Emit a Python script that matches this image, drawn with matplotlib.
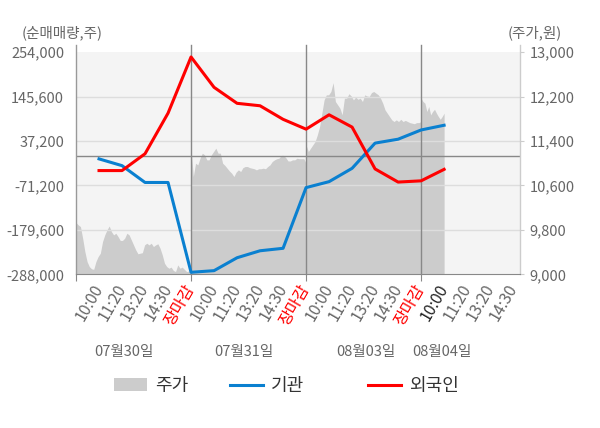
import numpy as np
import matplotlib.pyplot as plt
import matplotlib.transforms as transforms
from matplotlib.patches import Patch
from matplotlib.lines import Line2D

plt.rcParams['font.family'] = ['Noto Sans CJK KR', 'DejaVu Sans']

# x tick labels (one per slot) and the trading days
tick_labels = ["10:00", "11:20", "13:20", "14:30", "장마감"] * 3 + ["10:00", "11:20", "13:20", "14:30"]
day_names = ["07월30일", "07월31일", "08월03일", "08월04일"]

# net buying (shares), one point per slot 1..16
institution = [-6500, -23000, -64000, -64000, -283000, -279000, -247500, -230500,
               -224500, -76500, -62000, -29500, 32000, 41500, 64000, 75500]
foreign = [-35000, -35000, 6000, 105000, 242000, 168000, 129000, 123000,
           90000, 66000, 101000, 71000, -31000, -63000, -60000, -32000]

# intraday price (won), per day
price_d1 = [9930, 9890, 9860, 9650, 9410, 9230, 9140, 9100, 9090, 9230, 9320, 9380, 9590,
            9710, 9800, 9870, 9770, 9710, 9740, 9680, 9610, 9610, 9650, 9740, 9710, 9620,
            9530, 9440, 9370, 9380, 9390, 9530, 9560, 9530, 9560, 9500, 9530, 9550, 9470,
            9350, 9200, 9140, 9110, 9130, 9070, 9050, 9170, 9110, 9130, 9090, 9050, 9060, 9050]
price_d2 = [11270, 10760, 11000, 10970, 11090, 11180, 11150, 11060, 11060, 11150, 11210,
            11270, 11180, 11180, 11000, 10960, 10910, 10860, 10820, 10760, 10840, 10880,
            10850, 10920, 10940, 10940, 10920, 10910, 10900, 10880, 10900, 10900, 10910,
            10900, 10940, 10970, 11030, 11060, 11080, 11090, 11140, 11140, 11100, 11040,
            11040, 11060, 11060, 11090, 11080, 11080, 11080, 11000]
price_d3 = [11330, 11210, 11270, 11330, 11390, 11510, 11660, 11900, 12140, 12230, 12230,
            12290, 12450, 12110, 12050, 11990, 11870, 12170, 12170, 12250, 12210, 12140,
            12190, 12150, 12170, 12110, 12230, 12210, 12200, 12270, 12290, 12260, 12230,
            12170, 12080, 11960, 11900, 11840, 11780, 11750, 11780, 11750, 11790, 11750,
            11770, 11750, 11730, 11720, 11710, 11730, 11730, 11750]
price_d4 = [12170, 12110, 12080, 11930, 12020, 11870, 11930, 11970, 11900, 11840, 11790,
            11840, 11900]

left_ticks = [-288000, -179600, -71200, 37200, 145600, 254000]
right_ticks = [9000, 9800, 10600, 11400, 12200, 13000]

BLUE = "#0a80d0"
RED = "#ff0000"
AREA = "#cccccc"
TXT = "#666666"

# slot coordinates: each day covers 5 slots, last day ends at the 10:00 slot
slots = np.arange(1, len(institution) + 1)
price_x = np.concatenate([
    np.linspace(0, 5, len(price_d1)),
    np.linspace(5, 10, len(price_d2)),
    np.linspace(10, 15, len(price_d3)),
    np.linspace(15, 16, len(price_d4)),
])
price = np.array(price_d1 + price_d2 + price_d3 + price_d4)

fig = plt.figure(figsize=(6, 4.28), dpi=100)
ax = fig.add_axes([0.1267, 0.359, 0.74, 0.5194])
ax2 = ax.twinx()
ax.set_zorder(ax2.get_zorder() + 1)
ax.patch.set_visible(False)
ax2.patch.set_visible(True)
ax2.set_facecolor("#f4f4f4")

xmax = 19.3
ax.set_xlim(0, xmax)
ax.set_ylim(left_ticks[0], left_ticks[-1])
ax2.set_ylim(right_ticks[0], right_ticks[-1])

# price area on the right axis
ax2.fill_between(price_x, right_ticks[0], price, color=AREA, lw=0)

# grid
for v in left_ticks[1:-1]:
    ax.axhline(v, color="#dddddd", lw=1, zorder=1)
ax.axhline(0, color="#888888", lw=1, zorder=1)
for xv in [5, 10, 15]:
    ax.axvline(xv, ymax=1.032, color="#888888", lw=1, clip_on=False, zorder=1)
ax.axvline(0, ymax=1.032, color="#999999", lw=1, clip_on=False, zorder=1)
ax.axvline(xmax, ymax=1.032, color="#cccccc", lw=1, clip_on=False, zorder=1)

# net buying lines
ax.plot(slots, institution, color=BLUE, lw=2.2, solid_joinstyle="round", zorder=3)
ax.plot(slots, foreign, color=RED, lw=2.2, solid_joinstyle="round", zorder=3)

for a in (ax, ax2):
    for s in a.spines.values():
        s.set_visible(False)
ax.spines["bottom"].set_visible(True)
ax.spines["bottom"].set_color("#888888")

# x ticks: marks at day boundaries, labels on every slot
ax.xaxis.remove_overlapping_locs = False
ax.set_xticks([0, 5, 10, 15], labels=[""] * 4)
ax.tick_params(axis="x", which="major", length=5, color="#888888")
ax.set_xticks(np.arange(1, len(tick_labels) + 1), labels=tick_labels, minor=True)
ax.tick_params(axis="x", which="minor", length=0, pad=8, labelsize=11.5)
for i, lab in enumerate(ax.get_xticklabels(minor=True)):
    lab.set_rotation(60)
    lab.set_rotation_mode("anchor")
    lab.set_ha("right")
    lab.set_va("center")
    if tick_labels[i] == "장마감":
        lab.set_color(RED)
    elif i == len(institution) - 1:
        lab.set_color("#222222")
    else:
        lab.set_color(TXT)

ax.set_yticks(left_ticks, labels=[f"{v:,}" for v in left_ticks])
ax.tick_params(axis="y", length=0, pad=8.5, labelsize=10.5, labelcolor=TXT)
ax2.set_yticks(right_ticks, labels=[f"{v:,}" for v in right_ticks])
ax2.tick_params(axis="y", length=3, color="#cccccc", pad=4, labelsize=10.5, labelcolor=TXT)

# day names under the tick labels
trans = transforms.blended_transform_factory(ax.transData, ax.transAxes)
day_label_x = [2.1, 7.3, 12.6, 15.9]
for xv, name in zip(day_label_x, day_names):
    ax.text(xv, -0.351, name, transform=trans, ha="center", va="center",
            color=TXT, fontsize=10.5)

fig.text(22 / 600, 1 - 33 / 428, "(순매매량,주)", ha="left", va="center", color=TXT, fontsize=10.5)
fig.text(562 / 600, 1 - 33 / 428, "(주가,원)", ha="right", va="center", color=TXT, fontsize=10.5)

# legend: three entries placed side by side
handles = [Patch(facecolor=AREA, edgecolor="none"),
           Line2D([], [], color=BLUE, lw=2.2),
           Line2D([], [], color=RED, lw=2.2)]
names = ["주가", "기관", "외국인"]
legend_x = [114 / 600, 230 / 600, 368 / 600]
for h, name, lx in zip(handles, names, legend_x):
    fig.legend([h], [name], loc="center left", bbox_to_anchor=(lx, 0.098),
               frameon=False, fontsize=13, handlelength=1.8, handletextpad=0.45,
               borderpad=0, borderaxespad=0, labelcolor="#333333")

fig.savefig("out.png", dpi=100)
